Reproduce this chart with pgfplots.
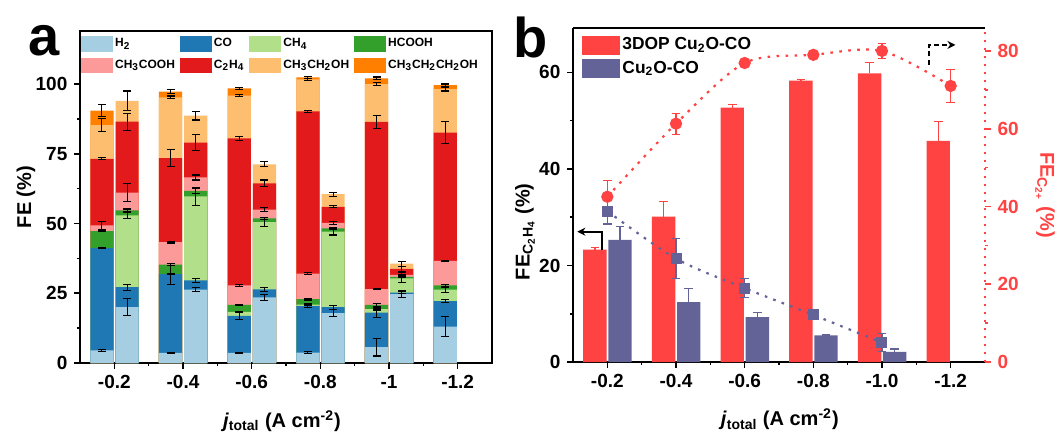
\documentclass[border=0pt]{standalone}
\usepackage{pgfplots}
\pgfplotsset{compat=1.18}
\usepackage{pgfplotstable}
\usepackage{fontspec}
\setmainfont{Liberation Sans}[UprightFont={* Bold}, ItalicFont={* Bold Italic}, BoldFont={* Bold}, BoldItalicFont={* Bold Italic}]
\usetikzlibrary{arrows.meta}

\definecolor{cH2}{HTML}{A6CEE3}
\definecolor{cCO}{HTML}{1F78B4}
\definecolor{cCH4}{HTML}{B2DF8A}
\definecolor{cHC}{HTML}{33A02C}
\definecolor{cAC}{HTML}{FB9A99}
\definecolor{cC2}{HTML}{E31A1C}
\definecolor{cEt}{HTML}{FDBF6F}
\definecolor{cPr}{HTML}{FF7F00}
\definecolor{bred}{HTML}{FF4242}
\definecolor{bblue}{HTML}{636398}

% panel a, 3DOP Cu2O-CO (cumulative tops of the stacked segments, and errors)
\pgfplotstableread{
x H2 CO CH4 HC AC C2 Et Pr eH2 eCO eCH4 eHC eAC eC2 eEt ePr
0 4.5 41.2 41.2 47.3 49.3 73.2 85.3 90.5 0.3 0.3 0 0 1.5 0.3 2.3 2.2
1 3.6 31.9 31.9 35.3 43.3 73.4 95.2 97.3 0.3 3.7 0 0.5 0.3 3.1 0.5 0.6
2 3.6 16.9 18.3 20.8 27.8 80.5 95.8 98.4 0.3 1.2 0.3 0.3 0.3 0.7 0.4 0.5
3 3.7 20.4 20.9 22.9 32.0 90.2 101.7 102.4 0.3 0.6 0.3 0.3 0.3 0.3 0.3 0.3
4 5.7 18.1 19.3 20.8 26.5 86.4 100.0 102.0 3.2 1.8 0.3 0.5 0.3 2.2 0.6 0.5
5 13.0 22.2 26.3 27.8 36.6 82.6 98.2 99.6 3.6 0.6 0.9 0.3 0.3 4.0 0.7 0.4
}\tabA
% panel a, Cu2O-CO
\pgfplotstableread{
x H2 CO CH4 HC AC C2 Et eH2 eCO eCH4 eHC eAC eC2 eEt
0 20.0 27.2 52.9 54.7 61.1 86.5 94.0 3.1 1.1 1.0 0.5 3.1 3.0 3.5
1 26.3 29.6 59.7 61.7 66.5 79.0 88.7 0.8 0.7 3.3 1.0 0.9 2.9 1.6
2 23.5 26.4 50.5 51.8 55.0 64.4 71.2 1.2 0.7 1.5 0.3 0.8 1.2 0.9
3 17.9 20.0 47.1 48.3 50.2 56.0 60.5 1.2 0.7 1.2 0.3 0.6 0.3 0.7
4 24.7 25.2 30.3 30.9 31.6 33.7 35.6 1.1 0.3 1.3 0.3 0.7 1.0 0.9
}\tabB
% panel b
\pgfplotstableread{
x r er
0 23.3 0.4
1 30.1 3.1
2 52.7 0.7
3 58.3 0.2
4 59.8 2.3
5 45.8 4.1
}\tabBr
\pgfplotstableread{
x b eb
0 25.3 2.8
1 12.4 2.9
2 9.3 1.0
3 5.5 0.1
4 2.1 0.6
}\tabBb
\pgfplotstableread{
x r er
0 42.5 4.2
1 61.3 2.7
2 76.9 0.8
3 79.0 0.5
4 80.0 2.0
5 71.0 4.2
}\tabBs
\pgfplotstableread{
x q eq
0 38.8 3.3
1 26.6 5.1
2 19.0 2.5
3 12.1 0.5
4 5.0 2.4
}\tabBq

\newcommand{\tickfont}{\fontsize{9.5}{11}\selectfont}
\newcommand{\labfont}{\fontsize{11.5}{13}\selectfont}

\pgfplotsset{
  common/.style={
    scale only axis, width=206pt,
    xmin=-0.5, xmax=5.5,
    xtick={0,1,2,3,4,5}, minor xtick={0.5,1.5,2.5,3.5,4.5},
    tick align=outside, major tick length=2.8pt, minor tick length=1.6pt,
    tick style={black, line width=0.8pt},
    axis line style={line width=1pt},
    tick label style={font=\tickfont},
    label style={font=\labfont, inner sep=0pt},
    /pgf/number format/assume math mode=true,
  },
  errA/.style={draw=none, mark=none, forget plot,
    error bars/.cd, y dir=both, y explicit,
    error bar style={draw=black, line width=0.55pt},
    error mark options={draw=black, rotate=90, mark size=2pt, line width=0.55pt}},
}

\begin{document}
\begin{tikzpicture}
\useasboundingbox (-40pt,-36.5pt) rectangle (491pt,181.5pt);

% ---------------- panel a ----------------
\begin{axis}[common, name=A, at={(0pt,0pt)}, anchor=south west, height=166pt,
  ymin=0, ymax=119, ytick={0,25,50,75,100}, minor y tick num=1,
  xticklabels={-0.2,-0.4,-0.6,-0.8,-1,-1.2},
  xtick pos=left, ytick pos=left,
  xlabel={\textit{j}\textsubscript{total} (A cm\textsuperscript{-2})},
  ylabel={FE (\%)},
  every axis y label/.style={at={(axis description cs:-0.131,0.5)}, rotate=90, anchor=center},
  every axis x label/.style={at={(axis description cs:0.49,-0.175)}, anchor=center},
  legend columns=4, legend cell align=left,
  legend image code/.code={\fill[#1] (0pt,-3.9pt) rectangle (16pt,3.9pt);},
  legend style={at={(axis description cs:0.0017,0.985)}, anchor=north west,
    draw=none, fill=none, inner sep=0pt,
    font=\fontsize{6}{7}\selectfont, row sep=2.8pt, nodes={inner sep=1pt},
    /tikz/every even column/.append style={column sep=1.5pt}},
]
\addlegendimage{fill=cH2, draw=none}\addlegendentry{H\textsubscript{2}}
\addlegendimage{fill=cCO, draw=none}\addlegendentry{CO}
\addlegendimage{fill=cCH4, draw=none}\addlegendentry{CH\textsubscript{4}}
\addlegendimage{fill=cHC, draw=none}\addlegendentry{HCOOH}
\addlegendimage{fill=cAC, draw=none}\addlegendentry{CH\textsubscript{3}COOH}
\addlegendimage{fill=cC2, draw=none}\addlegendentry{C\textsubscript{2}H\textsubscript{4}}
\addlegendimage{fill=cEt, draw=none}\addlegendentry{CH\textsubscript{3}CH\textsubscript{2}OH}
\addlegendimage{fill=cPr, draw=none}\addlegendentry{CH\textsubscript{3}CH\textsubscript{2}CH\textsubscript{2}OH}

\pgfplotsinvokeforeach{Pr,Et,C2,AC,HC,CH4,CO,H2}{
  \addplot[ybar, bar width=11.6pt, bar shift=-6.2pt, fill=c#1, draw=none, forget plot]
    table[x=x, y=#1]{\tabA};
}
\pgfplotsinvokeforeach{Et,C2,AC,HC,CH4,CO,H2}{
  \addplot[ybar, bar width=11.6pt, bar shift=6.4pt, fill=c#1, draw=none, forget plot]
    table[x=x, y=#1]{\tabB};
}
\pgfplotsinvokeforeach{H2,CO,CH4,HC,AC,C2,Et,Pr}{
  \addplot[errA] table[x expr=\thisrow{x}-0.1806, y=#1, y error=e#1]{\tabA};
}
\pgfplotsinvokeforeach{H2,CO,CH4,HC,AC,C2,Et}{
  \addplot[errA] table[x expr=\thisrow{x}+0.1864, y=#1, y error=e#1]{\tabB};
}
\end{axis}

% ---------------- panel b ----------------
\begin{axis}[common, name=B, at={(246.5pt,0.5pt)}, anchor=south west, height=167pt,
  ymin=0, ymax=69.2, ytick={0,20,40,60}, minor y tick num=1,
  xticklabels={-0.2,-0.4,-0.6,-0.8,-1.0,-1.2},
  axis x line*=bottom, axis y line*=left,
  xlabel={\textit{j}\textsubscript{total} (A cm\textsuperscript{-2})},
  ylabel={FE\textsubscript{C\textsubscript{2}H\textsubscript{4}} (\%)},
  every axis y label/.style={at={(axis description cs:-0.1165,0.39)}, rotate=90, anchor=center},
  every axis x label/.style={at={(axis description cs:0.502,-0.172)}, anchor=center},
  legend cell align=left,
  legend image code/.code={\fill[#1] (0pt,-4.6pt) rectangle (19pt,4.6pt);},
  legend style={at={(axis description cs:0.022,0.978)}, anchor=north west,
    draw=none, fill=none, inner sep=0pt,
    font=\fontsize{8.7}{10}\selectfont, row sep=2pt, nodes={inner sep=1pt}},
]
\addlegendimage{fill=bred, draw=none}\addlegendentry{3DOP Cu\textsubscript{2}O-CO}
\addlegendimage{fill=bblue, draw=none}\addlegendentry{Cu\textsubscript{2}O-CO}
\addplot[ybar, bar width=11.7pt, bar shift=-6.2pt, fill=bred, draw=none, forget plot]
  table[x=x, y=r]{\tabBr};
\addplot[ybar, bar width=11.7pt, bar shift=6.35pt, fill=bblue, draw=none, forget plot]
  table[x=x, y=b]{\tabBb};
\addplot[draw=none, mark=none, forget plot,
  error bars/.cd, y dir=plus, y explicit,
  error bar style={draw=bred, line width=0.6pt},
  error mark options={draw=bred, rotate=90, mark size=2.2pt, line width=0.6pt}]
  table[x expr=\thisrow{x}-0.1806, y=r, y error=er]{\tabBr};
\addplot[draw=none, mark=none, forget plot,
  error bars/.cd, y dir=plus, y explicit,
  error bar style={draw=bblue, line width=0.6pt},
  error mark options={draw=bblue, rotate=90, mark size=2.2pt, line width=0.6pt}]
  table[x expr=\thisrow{x}+0.185, y=b, y error=eb]{\tabBb};
\draw[line width=0.9pt, -{Stealth[length=4pt,width=4pt]}]
  (axis cs:-0.073,23.2) -- (axis cs:-0.073,27.0) -- (axis cs:-0.437,27.0);
\draw[line width=0.9pt, dash pattern=on 2.5pt off 1.6pt, -{Stealth[length=4pt,width=4pt]}]
  (axis cs:4.69,61.6) -- (axis cs:4.69,65.7) -- (axis cs:5.07,65.7);
\end{axis}

\begin{axis}[common, at={(246.5pt,0.5pt)}, anchor=south west, height=167pt,
  ymin=0, ymax=85.9, ytick={0,20,40,60,80}, minor y tick num=1,
  hide x axis, axis y line*=right,
  tick style={bred, line width=0.8pt},
  y axis line style={bred, line width=1.2pt, dash pattern=on 1.2pt off 2.8pt},
  yticklabel style={text=bred},
  ylabel={FE\textsubscript{C\textsubscript{2+}} (\%)},
  every axis y label/.style={at={(axis description cs:1.146,0.5)}, rotate=-90, anchor=center, text=bred},
]
\addplot[bred, line width=1.1pt, dash pattern=on 1.3pt off 3.2pt, smooth,
  mark=*, mark size=2.5pt, mark options={solid, fill=bred, draw=bred},
  error bars/.cd, y dir=both, y explicit,
  error bar style={draw=bred, solid, line width=0.6pt},
  error mark options={draw=bred, solid, rotate=90, mark size=2.2pt, line width=0.6pt}]
  table[x=x, y=r, y error=er]{\tabBs};
\addplot[bblue, line width=1.1pt, dash pattern=on 1.3pt off 3.2pt, smooth,
  mark=square*, mark size=2.2pt, mark options={solid, fill=bblue, draw=bblue},
  error bars/.cd, y dir=both, y explicit,
  error bar style={draw=bblue, solid, line width=0.6pt},
  error mark options={draw=bblue, solid, rotate=90, mark size=2.2pt, line width=0.6pt}]
  table[x=x, y=q, y error=eq]{\tabBq};
\end{axis}

\draw[line width=1pt] (B.north west) -- (B.north east);

\node[font=\fontsize{28}{30}\selectfont, inner sep=0pt] at (-18pt,161pt) {a};
\node[font=\fontsize{28}{30}\selectfont, inner sep=0pt] at (225.5pt,163pt) {b};
\end{tikzpicture}
\end{document}
